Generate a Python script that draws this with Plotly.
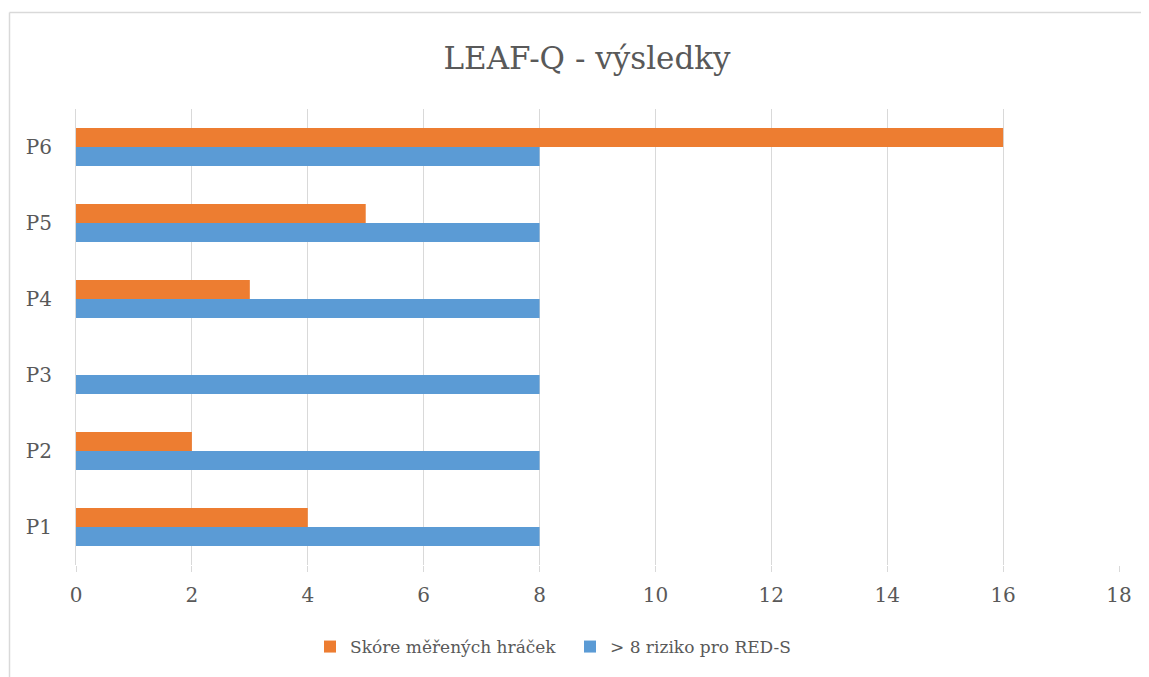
import plotly.graph_objects as go

categories = ["P1", "P2", "P3", "P4", "P5", "P6"]
skore = [4, 2, 0, 3, 5, 16]
riziko = [8, 8, 8, 8, 8, 8]
x_ticks = [0, 2, 4, 6, 8, 10, 12, 14, 16, 18]

FONT = "DejaVu Serif"
TXT = "#595959"
GRID = "#d9d9d9"

fig = go.Figure()
fig.add_trace(go.Bar(y=categories, x=riziko, orientation="h", name="> 8 riziko pro RED-S",
                     marker=dict(color="#5B9BD5", line=dict(width=0))))
fig.add_trace(go.Bar(y=categories, x=skore, orientation="h", name="Skóre měřených hráček",
                     marker=dict(color="#ED7D31", line=dict(width=0))))

OFF = 8  # page body margin of the html
W, H = 1149 - OFF, 677 - OFF
L, R, T, B = 76 - OFF, 30, 109 - OFF, 112
PW, PH = W - L - R, H - T - B

def px_x(p):
    return (p - OFF - L) / PW

def px_y(p):
    return 1 - (p - OFF - T) / PH

fig.update_layout(
    width=W, height=H,
    margin=dict(l=L, r=R, t=T, b=B),
    paper_bgcolor="white", plot_bgcolor="white",
    barmode="group", bargap=0.5, bargroupgap=0,
    font=dict(family=FONT, color=TXT, size=20),
    title=dict(text="LEAF-Q - výsledky", x=px_x(587), xanchor="center", y=1 - (58 - OFF) / H, yanchor="middle",
               xref="paper", font=dict(family=FONT, size=31, color=TXT)),
    showlegend=True,
    legend=dict(orientation="h", x=px_x(310), xanchor="left", y=px_y(647), yanchor="middle",
                traceorder="reversed", font=dict(family=FONT, size=17, color=TXT),
                itemwidth=30, entrywidth=215),
    xaxis=dict(range=[0, 18], tickvals=x_ticks, showgrid=True, gridcolor=GRID, gridwidth=1,
               zeroline=False, ticks="outside", ticklen=6, tickcolor=GRID, showline=False,
               ticklabelstandoff=6, tickfont=dict(family=FONT, size=20, color=TXT), fixedrange=True),
    yaxis=dict(categoryorder="array", categoryarray=categories, showgrid=False, zeroline=False,
               showline=True, linecolor=GRID, linewidth=1, ticks="", ticklabelstandoff=19,
               tickfont=dict(family=FONT, size=20, color=TXT), fixedrange=True),
    shapes=[
        dict(type="line", xref="paper", yref="paper", x0=px_x(9.5), x1=px_x(1160),
             y0=px_y(12.5), y1=px_y(12.5), line=dict(color=GRID, width=1.5)),
        dict(type="line", xref="paper", yref="paper", x0=px_x(9.5), x1=px_x(9.5),
             y0=px_y(12.5), y1=px_y(690), line=dict(color=GRID, width=1.5)),
    ],
)

fig.write_html("out.html")
